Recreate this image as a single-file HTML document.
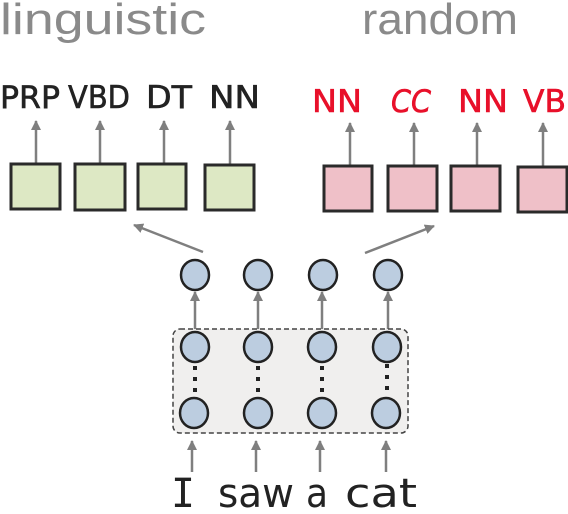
<!DOCTYPE html>
<html><head><style>
html,body{margin:0;padding:0;background:#fff;}
svg{display:block}
</style></head><body>
<svg width="568" height="514" viewBox="0 0 568 514" xmlns="http://www.w3.org/2000/svg">
<defs>
<marker id="ah" markerWidth="10" markerHeight="10" refX="9" refY="5" orient="auto" markerUnits="userSpaceOnUse">
<path d="M0,0 L10,5 L0,10 z" fill="#7f7f7f"/>
</marker>
</defs>
<g font-family="'Liberation Sans', sans-serif" fill="#8a8a8a" font-size="44">
<text x="0" y="34" textLength="206" lengthAdjust="spacingAndGlyphs">linguistic</text>
<text x="362" y="34" textLength="156" lengthAdjust="spacingAndGlyphs">random</text>
</g>
<g font-family="'DejaVu Sans', sans-serif" font-size="31" fill="#222" stroke="#222" stroke-width="0.6">
<text x="0" y="108" textLength="60" lengthAdjust="spacingAndGlyphs">PRP</text>
<text x="68" y="108" textLength="62" lengthAdjust="spacingAndGlyphs">VBD</text>
<text x="146" y="108" textLength="46" lengthAdjust="spacingAndGlyphs">DT</text>
<text x="209" y="108" textLength="51" lengthAdjust="spacingAndGlyphs">NN</text>
</g>
<g font-family="'DejaVu Sans', sans-serif" font-size="31" fill="#e8102a" stroke="#e8102a" stroke-width="0.6">
<text x="312" y="112" textLength="50" lengthAdjust="spacingAndGlyphs">NN</text>
<text x="391" y="112" textLength="40" lengthAdjust="spacingAndGlyphs" font-style="italic">CC</text>
<text x="458" y="112" textLength="50" lengthAdjust="spacingAndGlyphs">NN</text>
<text x="523" y="112" textLength="43" lengthAdjust="spacingAndGlyphs">VB</text>
</g>
<g stroke="#7f7f7f" stroke-width="2.5" marker-end="url(#ah)">
<line x1="36" y1="164" x2="36" y2="121"/>
<line x1="100" y1="164" x2="100" y2="121"/>
<line x1="164" y1="164" x2="164" y2="121"/>
<line x1="230" y1="164" x2="230" y2="121"/>
<line x1="350" y1="166" x2="350" y2="123"/>
<line x1="414" y1="166" x2="414" y2="123"/>
<line x1="477" y1="166" x2="477" y2="123"/>
<line x1="543" y1="166" x2="543" y2="123"/>
<line x1="203" y1="252" x2="134" y2="225"/>
<line x1="365" y1="253" x2="434" y2="226"/>
<line x1="195" y1="329" x2="195" y2="292"/>
<line x1="258" y1="329" x2="258" y2="292"/>
<line x1="322" y1="329" x2="322" y2="292"/>
<line x1="388" y1="329" x2="388" y2="292"/>
<line x1="192" y1="472" x2="192" y2="441"/>
<line x1="256" y1="472" x2="256" y2="441"/>
<line x1="320" y1="472" x2="320" y2="441"/>
<line x1="386" y1="472" x2="386" y2="441"/>
</g>
<g fill="#dde8c4" stroke="#2a2a2a" stroke-width="3">
<rect x="11" y="164" width="49" height="45"/>
<rect x="75" y="164" width="50" height="46"/>
<rect x="138" y="164" width="48" height="45"/>
<rect x="205" y="165" width="49" height="45"/>
</g>
<g fill="#efc0c8" stroke="#2a2a2a" stroke-width="3">
<rect x="324" y="166" width="48" height="45"/>
<rect x="388" y="166" width="49" height="45"/>
<rect x="451" y="166" width="49" height="45"/>
<rect x="518" y="167" width="49" height="45"/>
</g>
<rect x="173" y="329" width="235" height="104" rx="7" fill="#f0efee" stroke="#444" stroke-width="1.5" stroke-dasharray="5,3"/>
<g fill="#bccde0" stroke="#222" stroke-width="2.5">
<ellipse cx="195" cy="275" rx="14" ry="15"/>
<ellipse cx="258" cy="275" rx="14" ry="15"/>
<ellipse cx="323" cy="275" rx="14" ry="15"/>
<ellipse cx="388" cy="275" rx="14" ry="15"/>
<ellipse cx="195" cy="347" rx="14" ry="15"/>
<ellipse cx="258" cy="347" rx="14" ry="15"/>
<ellipse cx="322" cy="347" rx="14" ry="15"/>
<ellipse cx="387" cy="347" rx="14" ry="15"/>
<ellipse cx="194" cy="413" rx="14" ry="15"/>
<ellipse cx="258" cy="413" rx="14" ry="15"/>
<ellipse cx="322" cy="413" rx="14" ry="15"/>
<ellipse cx="386" cy="413" rx="14" ry="15"/>
</g>
<g fill="#222">
<rect x="193" y="366" width="4" height="4"/><rect x="193" y="377" width="4" height="4"/><rect x="193" y="388" width="4" height="4"/>
<rect x="256" y="366" width="4" height="4"/><rect x="256" y="377" width="4" height="4"/><rect x="256" y="388" width="4" height="4"/>
<rect x="320" y="366" width="4" height="4"/><rect x="320" y="377" width="4" height="4"/><rect x="320" y="388" width="4" height="4"/>
<rect x="385" y="364" width="4" height="4"/><rect x="385" y="375" width="4" height="4"/><rect x="385" y="386" width="4" height="4"/>
</g>
<g font-family="'DejaVu Sans', sans-serif" font-size="40" fill="#222">
<text x="171" y="507" font-family="'DejaVu Sans Mono', monospace" textLength="24" lengthAdjust="spacingAndGlyphs">I</text>
<text x="218" y="507" textLength="76" lengthAdjust="spacingAndGlyphs">saw</text>
<text x="306" y="507" textLength="22" lengthAdjust="spacingAndGlyphs">a</text>
<text x="345" y="507" textLength="72" lengthAdjust="spacingAndGlyphs">cat</text>
</g>
</svg>
</body></html>
